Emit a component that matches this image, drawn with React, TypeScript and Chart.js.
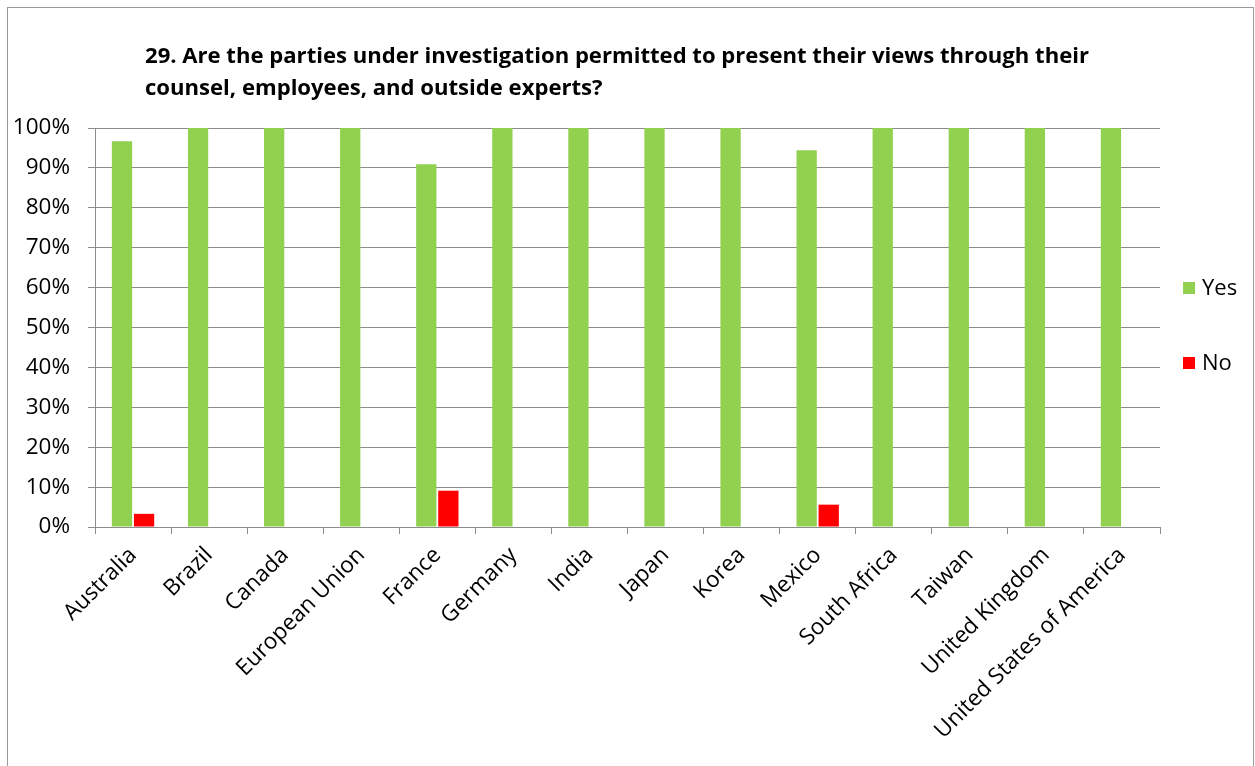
import React, { useEffect, useRef } from "react";
import { Chart, registerables } from "chart.js";

Chart.register(...registerables);

const categories = [
  "Australia",
  "Brazil",
  "Canada",
  "European Union",
  "France",
  "Germany",
  "India",
  "Japan",
  "Korea",
  "Mexico",
  "South Africa",
  "Taiwan",
  "United Kingdom",
  "United States of America",
];
const yesValues = [96.7, 100, 100, 100, 90.9, 100, 100, 100, 100, 94.4, 100, 100, 100, 100];
const noValues = [3.3, 0, 0, 0, 9.1, 0, 0, 0, 0, 5.6, 0, 0, 0, 0];
const titleLines = [
  "29. Are the parties under investigation permitted to present their views through their",
  "counsel, employees, and outside experts?",
];
const FONT = "'Open Sans', sans-serif";

const framePlugin = {
  id: "frame",
  beforeDraw(chart: any) {
    const ctx = chart.ctx;
    ctx.save();
    ctx.fillStyle = "#ffffff";
    ctx.fillRect(0, 0, chart.width, chart.height);
    ctx.strokeStyle = "#9a9a9a";
    ctx.lineWidth = 1;
    ctx.strokeRect(7.5, 7.5, 1246, 800);
    ctx.restore();
  },
  afterDraw(chart: any) {
    const ctx = chart.ctx;
    ctx.save();
    ctx.fillStyle = "#000000";
    ctx.font = `bold 22.1px ${FONT}`;
    ctx.textBaseline = "middle";
    ctx.textAlign = "left";
    ctx.fillText(titleLines[0], 145, 57);
    ctx.fillText(titleLines[1], 145, 89);
    // legend
    const ys = [288, 363];
    chart.data.datasets.forEach((ds: any, i: number) => {
      ctx.fillStyle = ds.backgroundColor;
      ctx.fillRect(1183, ys[i] - 6, 12, 12);
      ctx.fillStyle = "#000000";
      ctx.font = `22px ${FONT}`;
      ctx.fillText(ds.label, 1202, ys[i] + 1);
    });
    ctx.restore();
  },
};

export default function App() {
  const ref = useRef<HTMLCanvasElement>(null);
  useEffect(() => {
    const chart = new Chart(ref.current!, {
      type: "bar",
      data: {
        labels: categories,
        datasets: [
          { label: "Yes", data: yesValues, backgroundColor: "#92D050", categoryPercentage: 0.58, barPercentage: 0.92 },
          { label: "No", data: noValues, backgroundColor: "#FF0000", categoryPercentage: 0.58, barPercentage: 0.92 },
        ],
      },
      options: {
        responsive: false,
        animation: false,
        layout: { padding: { left: 0, top: 128, right: 95, bottom: 0 } },
        plugins: { legend: { display: false }, title: { display: false }, tooltip: { enabled: false } },
        scales: {
          x: {
            afterFit(scale: any) {
              scale.height = 239;
            },
            grid: { offset: true, drawOnChartArea: false, drawTicks: true, tickLength: 7, color: "#8c8c8c" },
            border: { color: "#8c8c8c" },
            ticks: { minRotation: 45, maxRotation: 45, autoSkip: false, color: "#000", font: { family: FONT, size: 22.5 }, padding: 8 },
          },
          y: {
            min: 0,
            max: 100,
            afterFit(scale: any) {
              scale.width = 95;
            },
            grid: { color: "#8c8c8c", tickLength: 7 },
            border: { color: "#8c8c8c" },
            ticks: {
              stepSize: 10,
              color: "#000",
              font: { family: FONT, size: 22.5 },
              padding: 18,
              callback: (v: any) => v + "%",
            },
          },
        },
      },
      plugins: [framePlugin],
    });
    return () => chart.destroy();
  }, []);
  return (
    <div style={{ position: "fixed", left: 0, top: 0, width: 1255, height: 766 }}>
      <canvas ref={ref} width={1255} height={766} />
    </div>
  );
}
